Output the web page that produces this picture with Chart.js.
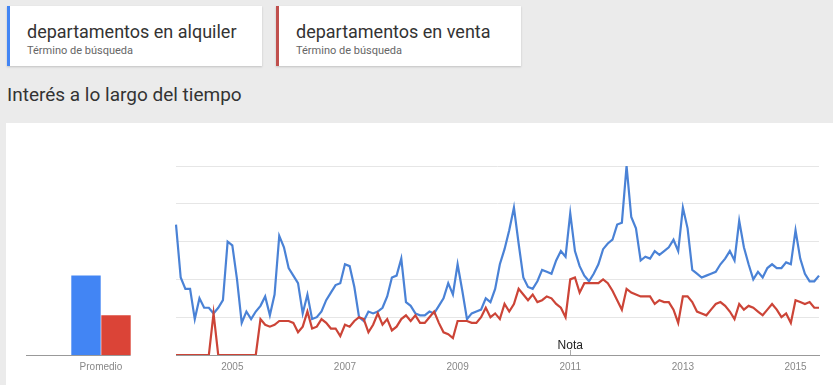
<!DOCTYPE html>
<html>
<head>
<meta charset="utf-8">
<script src="https://cdn.jsdelivr.net/npm/chart.js@4/dist/chart.umd.min.js"></script>
<style>
  body { margin: 0; width: 833px; height: 385px; overflow: hidden; background: #ebebeb; font-family: Roboto, Arial, sans-serif; position: relative; }
  .card { position: absolute; top: 6px; height: 60px; background: #fff; box-shadow: 0 1px 2px rgba(0,0,0,0.18); box-sizing: border-box; }
  .card .term { position: absolute; left: 17px; top: 15px; font-size: 18px; color: #333; white-space: nowrap; }
  .card .sub { position: absolute; left: 17px; top: 38px; font-size: 11px; color: #666; white-space: nowrap; }
  #title { position: absolute; left: 7px; top: 83px; font-size: 19px; color: #333; white-space: nowrap; }
  #panel { position: absolute; left: 6px; top: 123px; width: 827px; height: 262px; background: #fff; }
  #barBox { position: absolute; left: 0; top: 140px; width: 176px; height: 245px; }
  #lineBox { position: absolute; left: 160px; top: 140px; width: 673px; height: 245px; }
</style>
</head>
<body>
<div class="card" style="left:7px;width:255px;border-left:3px solid #4285f4;">
  <div class="term">departamentos en alquiler</div>
  <div class="sub">Término de búsqueda</div>
</div>
<div class="card" style="left:276px;width:245px;border-left:3px solid #c0504d;">
  <div class="term">departamentos en venta</div>
  <div class="sub">Término de búsqueda</div>
</div>
<div id="title">Interés a lo largo del tiempo</div>
<div id="panel"></div>
<div id="barBox"><canvas id="avgChart"></canvas></div>
<div id="lineBox"><canvas id="trendChart"></canvas></div>
<script>
// monthly data, Jan 2004 - Jun 2015
var seriesNames = ["departamentos en alquiler", "departamentos en venta"];
var alquiler = [
  69, 41, 35, 35, 19, 30, 25, 25, 22, 25, 29, 60,
  58, 40, 17, 23, 19, 23, 26, 31, 21, 32, 63, 57,
  46, 42, 38, 22, 32, 19, 20, 23, 29, 33, 37, 38,
  48, 47, 36, 20, 18, 23, 22, 23, 25, 31, 41, 42,
  51, 28, 26, 22, 21, 21, 23, 22, 26, 30, 38, 32,
  48, 34, 19, 22, 23, 24, 30, 28, 35, 48, 56, 66,
  78, 59, 41, 36, 35, 39, 45, 44, 43, 50, 55, 52,
  75, 55, 47, 42, 39, 43, 48, 56, 59, 61, 69, 70,
  100, 73, 67, 50, 52, 51, 55, 53, 55, 57, 61, 55,
  78, 67, 45, 43, 41, 42, 43, 44, 48, 51, 55, 50,
  71, 57, 48, 40, 44, 41, 46, 48, 46, 46, 49, 48,
  66, 51, 43, 39, 39, 42
];
var venta = [
  0, 0, 0, 0, 0, 0, 0, 0, 22, 0, 0, 0,
  0, 0, 0, 0, 0, 0, 19, 16, 15, 16, 18, 18,
  18, 17, 12, 15, 23, 14, 15, 19, 17, 14, 14, 10,
  16, 15, 18, 20, 19, 12, 16, 22, 16, 19, 13, 15,
  19, 21, 18, 21, 17, 17, 20, 23, 17, 12, 11, 9,
  18, 18, 18, 17, 17, 20, 25, 20, 22, 19, 27, 23,
  27, 35, 32, 29, 32, 28, 29, 31, 30, 27, 25, 20,
  40, 41, 33, 38, 38, 38, 38, 40, 38, 34, 29, 24,
  35, 33, 32, 31, 31, 31, 27, 29, 28, 28, 24, 17,
  31, 31, 28, 23, 22, 21, 24, 27, 28, 26, 23, 19,
  27, 24, 26, 25, 23, 21, 24, 27, 24, 20, 22, 17,
  29, 28, 27, 28, 25, 25
];
var promedioLabels = ["Promedio"];
var promedio = [42, 21];
var yearLabels = ["2005", "2007", "2009", "2011", "2013", "2015"];
var notaMonth = "2011-01";

var months = [];
for (var i = 0; i < alquiler.length; i++) {
  var yr = 2004 + Math.floor(i / 12);
  var mo = (i % 12) + 1;
  months.push(yr + "-" + (mo < 10 ? "0" + mo : mo));
}

var blueLine = '#4a82d6';
var redLine = '#cc4437';
var tickFont = { family: 'Arial, "Liberation Sans", sans-serif', size: 10 };

// baseline only under the bars
var barBaseline = {
  id: 'barBaseline',
  afterDatasetsDraw: function (chart) {
    var meta = chart.getDatasetMeta(chart.data.datasets.length - 1);
    var bar = meta.data[0];
    var c = chart.ctx;
    c.save();
    c.strokeStyle = '#999';
    c.lineWidth = 1;
    c.beginPath();
    c.moveTo(chart.chartArea.left, Math.round(chart.chartArea.bottom) + 0.5);
    c.lineTo(bar.x + bar.width / 2, Math.round(chart.chartArea.bottom) + 0.5);
    c.stroke();
    c.restore();
  }
};

var notaMark = {
  id: 'notaMark',
  afterDraw: function (chart) {
    var x = chart.scales.x.getPixelForValue(months.indexOf(notaMonth));
    var y = chart.chartArea.bottom;
    var c = chart.ctx;
    c.save();
    c.strokeStyle = '#aaa';
    c.lineWidth = 1;
    c.beginPath();
    c.moveTo(Math.round(x) + 0.5, y - 5);
    c.lineTo(Math.round(x) + 0.5, y);
    c.stroke();
    c.fillStyle = '#222';
    c.font = '12px Arial, "Liberation Sans", sans-serif';
    c.textAlign = 'center';
    c.textBaseline = 'alphabetic';
    c.fillText('Nota', x, y - 6);
    c.restore();
  }
};

new Chart(document.getElementById("avgChart"), {
  type: 'bar',
  data: {
    labels: promedioLabels,
    datasets: [
      { label: seriesNames[0], data: [promedio[0]], backgroundColor: '#4285f4' },
      { label: seriesNames[1], data: [promedio[1]], backgroundColor: '#db4437' }
    ]
  },
  options: {
    responsive: true,
    maintainAspectRatio: false,
    animation: false,
    categoryPercentage: 0.4,
    barPercentage: 0.98,
    layout: { padding: { left: 26, right: 0, top: 26, bottom: 6 } },
    plugins: { legend: { display: false }, tooltip: { enabled: false } },
    scales: {
      x: {
        grid: { display: false, drawTicks: false },
        border: { display: false },
        ticks: { color: '#888', font: tickFont, padding: 6 }
      },
      y: { display: false, min: 0, max: 100 }
    }
  },
  plugins: [barBaseline]
});

new Chart(document.getElementById("trendChart"), {
  type: 'line',
  data: {
    labels: months,
    datasets: [
      { label: seriesNames[0], data: alquiler, borderColor: blueLine, borderWidth: 2.2, pointRadius: 0, tension: 0, order: 2 },
      { label: seriesNames[1], data: venta, borderColor: redLine, borderWidth: 2.2, pointRadius: 0, tension: 0, order: 1 }
    ]
  },
  options: {
    responsive: true,
    maintainAspectRatio: false,
    animation: false,
    layout: { padding: { left: 16, right: 14, top: 26, bottom: 6 } },
    plugins: { legend: { display: false }, tooltip: { enabled: false } },
    scales: {
      x: {
        grid: { display: false, drawTicks: false },
        border: { color: '#999' },
        ticks: {
          color: '#888', font: tickFont, padding: 6, autoSkip: false, maxRotation: 0,
          callback: function (val) {
            var lab = months[val];
            if (lab.slice(5) === "01" && yearLabels.indexOf(lab.slice(0, 4)) >= 0) return lab.slice(0, 4);
            return null;
          }
        }
      },
      y: {
        min: 0, max: 100,
        ticks: { display: false, stepSize: 20 },
        grid: { color: '#e6e6e6', drawTicks: false },
        border: { display: false }
      }
    }
  },
  plugins: [notaMark]
});
</script>
</body>
</html>
